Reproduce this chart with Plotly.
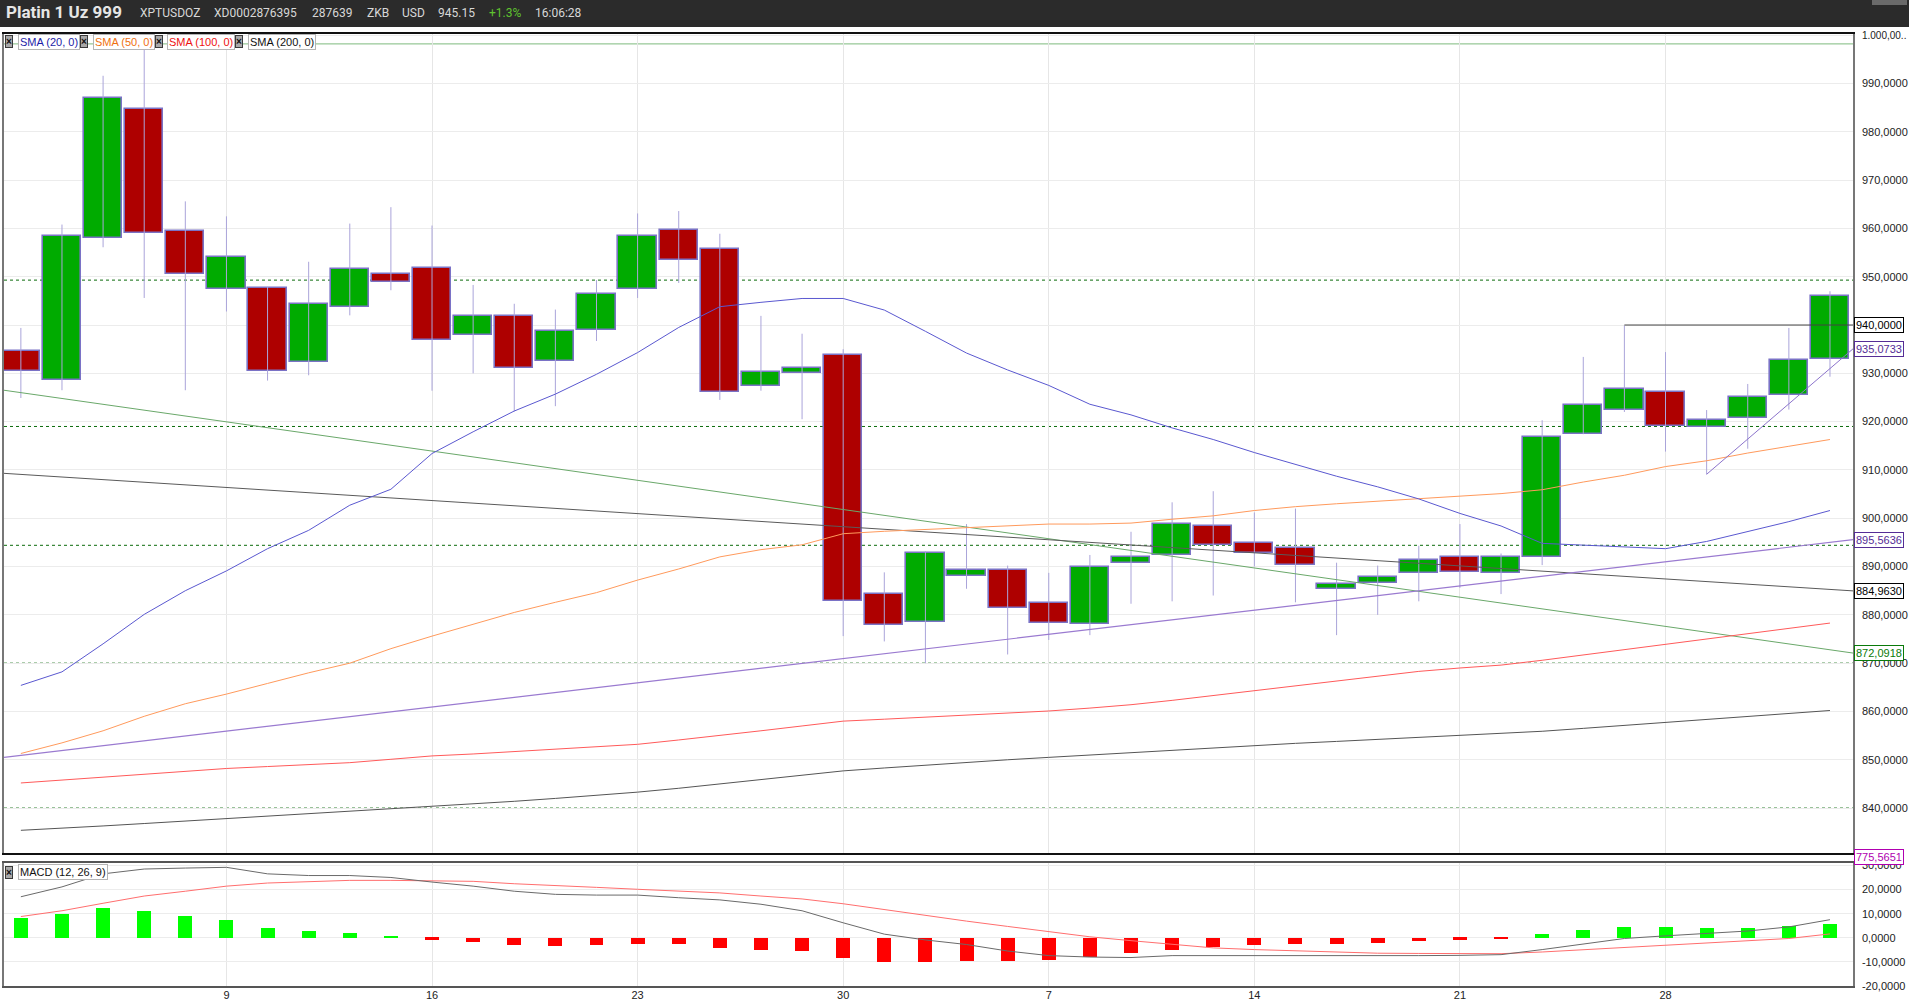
import plotly.graph_objects as go
import pandas as pd

# ---------------- data ----------------
dates = pd.bdate_range("2019-09-02", "2019-11-01")
opens = [934.7, 928.6, 958.0, 984.7, 959.5, 947.5, 947.6, 932.3, 943.8, 950.5,
         951.8, 937.9, 941.8, 932.5, 939.0, 947.5, 959.7, 955.7, 927.4, 930.0,
         933.8, 884.3, 878.6, 888.0, 889.2, 882.5, 878.2, 890.8, 892.3, 898.4,
         894.8, 893.8, 885.4, 886.7, 888.6, 892.0, 888.6, 891.9, 917.4, 922.5,
         926.2, 918.9, 920.8, 925.5, 933.0]
highs = [939.4, 960.8, 991.6, 997.2, 965.6, 962.5, 947.9, 953.1, 961.0, 964.4,
         960.6, 948.3, 944.4, 943.2, 949.3, 963.1, 963.6, 958.9, 941.9, 938.2,
         935.0, 888.8, 893.2, 898.8, 890.2, 888.7, 892.4, 897.2, 903.3, 905.6,
         901.2, 902.0, 890.8, 890.2, 894.3, 898.8, 892.7, 920.3, 933.4, 939.9,
         934.4, 922.4, 927.8, 939.4, 947.0]
lows = [924.9, 926.5, 956.1, 945.6, 926.5, 942.8, 928.5, 929.6, 942.0, 947.2,
        926.4, 930.0, 922.1, 923.2, 936.7, 945.6, 948.7, 924.5, 926.4, 920.5,
        875.6, 874.5, 870.0, 885.4, 871.8, 874.8, 875.8, 882.3, 882.8, 884.0,
        890.0, 882.6, 875.8, 880.0, 882.8, 885.6, 884.3, 890.3, 917.4, 922.0,
        913.8, 909.1, 914.4, 922.5, 929.3]
closes = [930.5, 958.5, 986.9, 959.1, 950.6, 954.1, 930.5, 944.3, 951.6, 949.0,
          936.9, 941.9, 931.1, 938.7, 946.4, 958.5, 953.5, 926.1, 930.3, 931.2,
          882.9, 878.0, 892.9, 889.2, 881.5, 878.4, 889.9, 892.0, 898.8, 894.5,
          892.9, 890.4, 886.4, 887.8, 891.3, 888.9, 892.0, 916.8, 923.4, 926.8,
          919.2, 920.4, 925.1, 932.8, 946.1]

sma20 = [865.4, 868.2, 874.0, 880.1, 885.0, 889.1, 893.7, 897.5, 902.7, 906.0,
         913.4, 917.9, 922.2, 925.7, 929.8, 934.3, 939.5, 943.8, 944.7, 945.5,
         945.5, 943.1, 938.7, 934.2, 930.7, 927.5, 923.6, 921.4, 918.7, 916.3,
         913.6, 911.2, 908.7, 906.5, 904.0, 901.0, 898.4, 894.8, 894.4, 894.1,
         893.7, 895.2, 897.2, 899.3, 901.6]
sma50 = [851.3, 853.5, 856.0, 859.0, 861.6, 863.6, 865.8, 868.0, 870.0, 873.0,
         875.6, 878.0, 880.5, 882.6, 884.6, 887.2, 889.5, 892.0, 893.5, 894.5,
         896.8, 897.3, 897.7, 898.0, 898.4, 898.8, 898.8, 899.0, 899.8, 900.5,
         901.6, 902.4, 903.0, 903.5, 904.0, 904.5, 905.1, 905.9, 907.5, 908.9,
         910.7, 911.9, 913.5, 914.9, 916.3]
sma100 = [845.2, 845.8, 846.5, 847.1, 847.6, 848.2, 848.6, 849.0, 849.4, 850.1,
          850.8, 851.2, 851.7, 852.2, 852.7, 853.2, 854.1, 855.0, 856.0, 857.0,
          858.0, 858.4, 858.8, 859.2, 859.6, 860.1, 860.7, 861.4, 862.3, 863.3,
          864.4, 865.4, 866.3, 867.3, 868.3, 869.0, 869.6, 870.6, 871.7, 872.8,
          873.9, 875.0, 876.1, 877.2, 878.3]
sma200 = [835.4, 835.8, 836.3, 836.8, 837.3, 837.9, 838.4, 838.9, 839.4, 839.8,
          840.3, 840.8, 841.4, 842.0, 842.6, 843.3, 844.1, 845.0, 845.9, 846.8,
          847.7, 848.3, 848.9, 849.5, 850.0, 850.5, 851.0, 851.5, 852.0, 852.5,
          853.0, 853.4, 853.8, 854.2, 854.6, 855.0, 855.4, 855.9, 856.5, 857.1,
          857.7, 858.3, 858.9, 859.5, 860.2]

macd = [17.0, 21.1, 26.5, 28.5, 28.9, 29.2, 26.5, 25.8, 25.8, 25.0,
        23.1, 21.4, 19.3, 18.0, 17.7, 17.7, 16.6, 15.7, 13.9, 11.2,
        6.2, 1.5, -0.9, -2.8, -5.5, -7.4, -8.0, -8.2, -7.4, -7.4,
        -7.4, -7.4, -7.7, -7.7, -7.4, -7.3, -7.0, -4.9, -2.6, -0.3,
        0.8, 1.8, 2.8, 4.5, 7.5]
signal = [8.8, 11.2, 14.3, 17.3, 19.3, 21.4, 22.7, 23.1, 23.8, 23.8,
          23.6, 23.4, 22.4, 21.8, 20.9, 20.1, 19.3, 18.6, 17.3, 16.1,
          14.1, 11.6, 9.3, 6.9, 4.7, 2.4, 0.4, -1.2, -2.8, -4.2,
          -4.9, -5.5, -6.1, -6.4, -6.5, -6.6, -6.6, -5.9, -5.0, -3.9,
          -3.0, -2.3, -1.4, -0.3, 1.6]
hist = [8.1, 9.7, 12.2, 10.9, 8.9, 7.3, 4.1, 2.8, 2.0, 0.8,
        -0.8, -1.6, -3.2, -3.6, -3.2, -2.4, -2.4, -4.1, -4.9, -5.3,
        -8.5, -10.1, -10.1, -9.7, -9.7, -9.3, -8.1, -6.5, -4.9, -3.8,
        -3.2, -2.4, -2.4, -2.0, -1.2, -0.8, -0.4, 1.6, 3.2, 4.5,
        4.5, 4.1, 4.1, 4.7, 5.9]

# drawn trend lines: (x0, y0, x1, y1) in candle-index / price units
trend_green = (-0.41, 926.5, 44.56, 872.0918)
trend_black = (-0.41, 909.3, 44.56, 884.9630)
trend_purple = (-0.41, 850.5, 44.56, 895.5636)
trend_purple_short = (41, 909.1, 44.56, 935.0733)
hline_black = (39, 940.0, 44.56, 940.0)
dotted_levels = [949.3, 919.0, 894.4, 870.0, 840.0]
top_green_level = 998.2

price_ticks = list(range(840, 1001, 10))
price_ticktext = (["" if v == 940 else f"{v},0000" for v in price_ticks[:-1]]
                  + ["<span style='font-size:10px'>1.000,00..</span>"])
macd_ticks = [-20, -10, 0, 10, 20, 30]
macd_ticktext = ["-20,0000", "-10,0000", "0,0000", "10,0000", "20,0000", "30,0000"]

header_items = [("XPTUSDOZ", 138, "#d8d8d8"), ("XD0002876395", 212, "#d8d8d8"),
                ("287639", 310, "#d8d8d8"), ("ZKB", 365, "#d8d8d8"),
                ("USD", 400, "#d8d8d8"), ("945.15", 436, "#d8d8d8"),
                ("+1.3%", 487, "#5fc22f"), ("16:06:28", 533, "#d8d8d8")]
legend_items = [("SMA (20, 0)", "#1c1ca8", 4.5, 18), ("SMA (50, 0)", "#f07010", 80, 93),
                ("SMA (100, 0)", "#ee1111", 155, 167), ("SMA (200, 0)", "#111111", 235, 248)]
value_boxes = [(940.0, "940,0000", "#000000"), (935.0733, "935,0733", "#552d96"),
               (895.5636, "895,5636", "#552d96"), (884.9630, "884,9630", "#000000"),
               (872.0918, "872,0918", "#0a7a0a")]

# ---------------- geometry helpers (pixel -> paper) ----------------
W, H = 1909, 1000
L, R, T, B = 4, 56, 34, 14
PW, PH = W - L - R, H - T - B


def fx(px):
    return (px - L) / PW


def fy(py):
    return (H - B - py) / PH


n = len(dates)
xi = list(range(n))
mondays = [i for i, d in enumerate(dates) if d.weekday() == 0 and i > 0]
mon_text = [str(dates[i].day) for i in mondays]
XR = [-0.41, 44.56]

FONT = "Liberation Sans, Arial, sans-serif"

fig = go.Figure()

# wicks
wx, wy = [], []
for i in xi:
    wx += [i, i, None]
    wy += [lows[i], highs[i], None]
fig.add_trace(go.Scatter(x=wx, y=wy, mode="lines", line=dict(color="#aaa4da", width=1),
                         hoverinfo="skip", showlegend=False, xaxis="x", yaxis="y"))

# trend lines (below candles)
for tl, col, w in [(trend_green, "#6aa86a", 1), (trend_black, "#5a5a5a", 1),
                   (trend_purple, "#9a7ad0", 1.2)]:
    fig.add_trace(go.Scatter(x=[tl[0], tl[2]], y=[tl[1], tl[3]], mode="lines",
                             line=dict(color=col, width=w), hoverinfo="skip",
                             showlegend=False, xaxis="x", yaxis="y"))

# SMA lines
for vals, col in [(sma200, "#555555"), (sma100, "#ff5a5a"), (sma50, "#ff9a5c"), (sma20, "#5a58d0")]:
    fig.add_trace(go.Scatter(x=xi, y=vals, mode="lines", line=dict(color=col, width=1),
                             hoverinfo="skip", showlegend=False, xaxis="x", yaxis="y"))

# candle bodies
base = [min(o, c) for o, c in zip(opens, closes)]
height = [max(abs(c - o), 0.35) for o, c in zip(opens, closes)]
colors = ["#00ab00" if c >= o else "#ae0000" for o, c in zip(opens, closes)]
fig.add_trace(go.Bar(x=xi, y=height, base=base, width=0.93,
                     marker=dict(color=colors, line=dict(color="#7a72c6", width=1.6)),
                     hoverinfo="skip", showlegend=False, xaxis="x", yaxis="y"))

# short purple & black horizontal
for tl, col in [(trend_purple_short, "#8c74cc"), (hline_black, "#444444")]:
    fig.add_trace(go.Scatter(x=[tl[0], tl[2]], y=[tl[1], tl[3]], mode="lines",
                             line=dict(color=col, width=1), hoverinfo="skip",
                             showlegend=False, xaxis="x", yaxis="y"))

# MACD panel
hcol = ["#00ff00" if h >= 0 else "#ff0000" for h in hist]
fig.add_trace(go.Bar(x=xi, y=hist, width=0.34, marker=dict(color=hcol, line=dict(width=0)),
                     hoverinfo="skip", showlegend=False, xaxis="x2", yaxis="y2"))
fig.add_trace(go.Scatter(x=xi, y=signal, mode="lines", line=dict(color="#ff6e6e", width=1),
                         hoverinfo="skip", showlegend=False, xaxis="x2", yaxis="y2"))
fig.add_trace(go.Scatter(x=xi, y=macd, mode="lines", line=dict(color="#6a6a6a", width=1),
                         hoverinfo="skip", showlegend=False, xaxis="x2", yaxis="y2"))

shapes = []
# header bar
shapes.append(dict(type="rect", xref="paper", yref="paper", x0=fx(0), x1=fx(W), y0=fy(27), y1=fy(0),
                   fillcolor="#2b2b2b", line=dict(width=0), layer="above"))
shapes.append(dict(type="rect", xref="paper", yref="paper", x0=fx(1872), x1=fx(1907), y0=fy(5), y1=fy(0),
                   fillcolor="#6a6a6a", line=dict(width=0), layer="above"))
for lv in dotted_levels:
    shapes.append(dict(type="line", xref="paper", yref="y", x0=0, x1=1, y0=lv, y1=lv,
                       line=dict(color="#0b6b0b", width=1, dash="dot"), layer="below"))
shapes.append(dict(type="line", xref="paper", yref="y", x0=0, x1=1, y0=top_green_level,
                   y1=top_green_level, line=dict(color="#7dbb7d", width=1), layer="below"))

annotations = []
annotations.append(dict(text="<b>Platin 1 Uz 999</b>", xref="paper", yref="paper", x=fx(4), y=fy(12),
                        xanchor="left", yanchor="middle", showarrow=False,
                        font=dict(family="Roboto, " + FONT, size=17, color="#e6e6e6")))
for txt, px, col in header_items:
    annotations.append(dict(text=txt, xref="paper", yref="paper", x=fx(px), y=fy(13),
                            xanchor="left", yanchor="middle", showarrow=False,
                            font=dict(family="Roboto, " + FONT, size=12, color=col)))


def legend_entry(text, color, bx, tx, py):
    annotations.append(dict(text="<b>×</b>", xref="paper", yref="paper", x=fx(bx), y=fy(py),
                            xanchor="left", yanchor="middle", showarrow=False,
                            font=dict(family=FONT, size=10, color="#111111"),
                            bgcolor="#a8a8a8", bordercolor="#3a3a3a", borderwidth=1, borderpad=0))
    annotations.append(dict(text=text, xref="paper", yref="paper", x=fx(tx), y=fy(py),
                            xanchor="left", yanchor="middle", showarrow=False,
                            font=dict(family=FONT, size=11, color=color),
                            bgcolor="#ffffff", bordercolor="#b5b5b5", borderwidth=1, borderpad=1))


for text, color, bx, tx in legend_items:
    legend_entry(text, color, bx, tx, 42)
legend_entry("MACD (12, 26, 9)", "#111111", 4.5, 18, 872)

for val, txt, col in value_boxes:
    annotations.append(dict(text=txt, xref="paper", yref="y", x=fx(1854), y=val,
                            xanchor="left", yanchor="middle", showarrow=False,
                            font=dict(family=FONT, size=11, color=col),
                            bgcolor="#ffffff", bordercolor=col, borderwidth=1, borderpad=1))
annotations.append(dict(text="775,5651", xref="paper", yref="paper", x=fx(1854), y=fy(857),
                        xanchor="left", yanchor="middle", showarrow=False,
                        font=dict(family=FONT, size=11, color="#b000b0"),
                        bgcolor="#ffffff", bordercolor="#b000b0", borderwidth=1, borderpad=1))

main_dom = [fy(853), 1.0]
macd_dom = [0.0, fy(863)]

fig.update_layout(
    width=W, height=H, autosize=False,
    margin=dict(l=L, r=R, t=T, b=B, pad=0, autoexpand=False),
    paper_bgcolor="#ffffff", plot_bgcolor="#ffffff",
    showlegend=False, barmode="overlay", bargap=0,
    font=dict(family=FONT, size=11, color="#222222"),
    shapes=shapes, annotations=annotations,
    xaxis=dict(domain=[0, 1], anchor="y", range=XR, tickvals=mondays, ticktext=mon_text,
               showticklabels=False, showgrid=True, gridcolor="#e6e6e6", gridwidth=1,
               zeroline=False, showline=True, mirror=True, linecolor="#111111", linewidth=1.5,
               ticks="", automargin=False),
    yaxis=dict(domain=main_dom, anchor="x", side="right", range=[830.7, 1000.25],
               tickvals=price_ticks, ticktext=price_ticktext, showgrid=True,
               gridcolor="#ececec", gridwidth=1, zeroline=False, showline=True, mirror=True,
               linecolor="#777777", linewidth=1.5, ticks="", ticklabelstandoff=5,
               automargin=False,
               tickfont=dict(family=FONT, size=11, color="#222222")),
    xaxis2=dict(domain=[0, 1], anchor="y2", range=XR, matches="x", tickvals=mondays,
                ticktext=mon_text, showgrid=True, gridcolor="#e6e6e6", gridwidth=1,
                zeroline=False, showline=True, mirror=True, linecolor="#555555", linewidth=1.5,
                ticks="", automargin=False, ticklabelstandoff=-2,
                tickfont=dict(family=FONT, size=11, color="#222222")),
    yaxis2=dict(domain=macd_dom, anchor="x2", side="right", range=[-20, 31],
                tickvals=macd_ticks, ticktext=macd_ticktext, showgrid=True,
                gridcolor="#ececec", gridwidth=1, zeroline=False, showline=True, mirror=True,
                linecolor="#777777", linewidth=1.5, ticks="", ticklabelstandoff=5,
                automargin=False,
                tickfont=dict(family=FONT, size=11, color="#222222")),
)

fig.write_html("out.html", config={"displayModeBar": False},
               post_script="document.body.style.margin='0px';document.body.style.overflow='hidden';")
